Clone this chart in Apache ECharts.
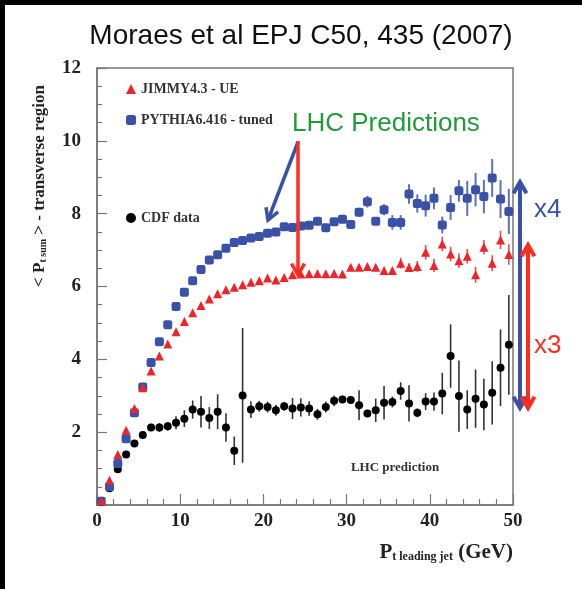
<!DOCTYPE html>
<html><head><meta charset="utf-8">
<script src="https://cdn.jsdelivr.net/npm/echarts@6/dist/echarts.min.js"></script>
<style>html,body{margin:0;padding:0;background:#fff}#c{width:582px;height:589px}</style>
</head><body><div id="c"></div>
<script>
// Bin centres (GeV)
const ptBins = [0.5,1.5,2.5,3.5,4.5,5.5,6.5,7.5,8.5,9.5,10.5,11.5,12.5,13.5,14.5,15.5,16.5,17.5,18.5,19.5,20.5,21.5,22.5,23.5,24.5,25.5,26.5,27.5,28.5,29.5,30.5,31.5,32.5,33.5,34.5,35.5,36.5,37.5,38.5,39.5,40.5,41.5,42.5,43.5,44.5,45.5,46.5,47.5,48.5,49.5];
// JIMMY4.3 - UE
const jimmyVals = [0.12,0.68,1.39,2.05,2.65,3.22,3.68,4.09,4.42,4.76,5.04,5.28,5.48,5.66,5.80,5.91,5.98,6.05,6.12,6.16,6.23,6.18,6.25,6.32,6.34,6.35,6.36,6.35,6.36,6.34,6.53,6.53,6.55,6.53,6.44,6.44,6.64,6.52,6.55,6.94,6.58,7.17,6.89,6.71,6.83,6.32,7.08,6.64,7.28,6.88];
const jimmyErr = [0.03,0.03,0.03,0.03,0.03,0.03,0.03,0.03,0.03,0.03,0.03,0.03,0.03,0.03,0.03,0.03,0.03,0.03,0.03,0.03,0.03,0.03,0.03,0.03,0.03,0.03,0.03,0.03,0.03,0.03,0.05,0.05,0.05,0.05,0.05,0.05,0.15,0.12,0.15,0.2,0.18,0.2,0.2,0.2,0.2,0.22,0.2,0.22,0.25,0.28];
// PYTHIA6.416 - tuned
const pythiaVals = [0.1,0.5,1.14,1.82,2.53,3.24,3.91,4.48,4.95,5.45,5.84,6.16,6.47,6.73,6.87,7.05,7.21,7.26,7.33,7.37,7.46,7.50,7.64,7.62,7.66,7.68,7.79,7.61,7.78,7.85,7.70,8.04,8.33,7.79,8.11,7.76,7.76,8.54,8.28,8.22,8.42,7.69,8.17,8.63,8.42,8.66,8.47,8.98,8.40,8.06];
const pythiaErr = [0.03,0.03,0.03,0.03,0.03,0.03,0.03,0.03,0.03,0.03,0.03,0.03,0.03,0.03,0.03,0.03,0.03,0.03,0.03,0.03,0.03,0.03,0.03,0.03,0.05,0.05,0.05,0.05,0.05,0.05,0.08,0.12,0.16,0.1,0.15,0.2,0.2,0.27,0.25,0.3,0.3,0.23,0.34,0.3,0.48,0.46,0.46,0.52,0.52,0.62];
// CDF data
const cdfVals = [0.08,0.46,0.98,1.39,1.69,1.92,2.13,2.13,2.16,2.26,2.37,2.62,2.56,2.39,2.56,2.13,1.49,3.01,2.62,2.71,2.69,2.60,2.71,2.65,2.68,2.65,2.49,2.69,2.86,2.90,2.88,2.74,2.51,2.60,2.81,2.83,3.13,2.79,2.53,2.84,2.84,3.06,4.09,2.99,2.62,2.92,2.76,3.08,3.77,4.40];
const cdfErr = [0.05,0.05,0.05,0.05,0.08,0.08,0.1,0.12,0.12,0.18,0.23,0.25,0.43,0.3,0.48,0.39,0.39,1.85,0.23,0.15,0.15,0.15,0.12,0.29,0.25,0.2,0.15,0.15,0.15,0.1,0.1,0.41,0.1,0.32,0.46,0.15,0.24,0.5,0.12,0.23,0.25,0.57,0.87,0.98,0.53,0.8,0.71,0.87,1.05,1.37];
// Axis ticks
const xTicks = [0,10,20,30,40,50];
const yTicks = [0,2,4,6,8,10,12];

const RED = '#f0232a', BLUE = '#3a51a8', BLACK = '#000';
const pts = (v) => ptBins.map((x,i)=>[x, v[i]]);
const errs = (v,e) => ptBins.map((x,i)=>[x, v[i]-e[i], v[i]+e[i]]);

function errSeries(name, data, color, w){
  return {
    type:'custom', name: name+'_err', silent:true, z:2,
    renderItem(params, api){
      const top = api.coord([api.value(0), api.value(2)]);
      const bot = api.coord([api.value(0), api.value(1)]);
      return {type:'line', shape:{x1:top[0],y1:top[1],x2:bot[0],y2:bot[1]}, style:{stroke:color, lineWidth:w}};
    },
    encode:{x:0, y:[1,2]},
    data: data
  };
}

function arrow(x1,y1,x2,y2,color,w,both){
  const out=[];
  out.push({type:'line', shape:{x1,y1,x2,y2}, style:{stroke:color,lineWidth:w}});
  function head(tx,ty,fx,fy){
    const dx=tx-fx, dy=ty-fy, L=Math.hypot(dx,dy), ux=dx/L, uy=dy/L;
    const len=13, a=Math.PI/6;
    const c=Math.cos(a), s=Math.sin(a);
    const p1=[tx-len*(ux*c-uy*s), ty-len*(uy*c+ux*s)];
    const p2=[tx-len*(ux*c+uy*s), ty-len*(uy*c-ux*s)];
    out.push({type:'polyline', shape:{points:[p1,[tx,ty],p2]}, style:{stroke:color,lineWidth:w,fill:null,lineJoin:'miter'}});
  }
  head(x2,y2,x1,y1);
  if(both) head(x1,y1,x2,y2);
  return out;
}

const chart = echarts.init(document.getElementById('c'), null, {renderer:'canvas'});
const serif = '"Liberation Serif", "Times New Roman", serif';
const sans = '"Liberation Sans", Arial, sans-serif';

const graphics = [
  {type:'rect', shape:{x:0,y:0,width:5,height:589}, style:{fill:'#000'}, z:100},
  {type:'rect', shape:{x:0,y:0,width:582,height:5}, style:{fill:'#000'}, z:100},
  {type:'text', x:37, y:186, rotation:Math.PI/2, z:100,
    style:{text:'{a|< P}{s|t sum}{a| > - transverse region}', align:'center', verticalAlign:'middle', fill:'#222',
      rich:{a:{fontFamily:serif, fontWeight:'bold', fontSize:17, lineHeight:22, verticalAlign:'bottom'},
            s:{fontFamily:serif, fontWeight:'bold', fontSize:10, lineHeight:10, verticalAlign:'bottom'}}}},
  {type:'text', x:513, y:550, z:100,
    style:{text:'{a|P}{s|t leading jet}{a| (GeV)}', align:'right', verticalAlign:'middle', fill:'#222',
      rich:{a:{fontFamily:serif, fontWeight:'bold', fontSize:21, lineHeight:26, verticalAlign:'bottom'},
            s:{fontFamily:serif, fontWeight:'bold', fontSize:12, lineHeight:12, verticalAlign:'bottom'}}}},
  {type:'text', x:395, y:468, z:100, style:{text:'LHC prediction', align:'center', verticalAlign:'middle', fill:'#333', font:'bold 13px '+serif}},
  {type:'text', x:292, y:124, z:100, style:{text:'LHC Predictions', align:'left', verticalAlign:'middle', fill:'#1f9b3c', font:'26px '+sans}},
  {type:'text', x:534, y:210, z:100, style:{text:'x4', align:'left', verticalAlign:'middle', fill:BLUE, font:'26px '+sans}},
  {type:'text', x:534, y:346, z:100, style:{text:'x3', align:'left', verticalAlign:'middle', fill:'#ff2d1e', font:'26px '+sans}},
].concat(
  arrow(298,142,268,220,BLUE,3.5,false),
  arrow(298,141,298,275,'#ff2d1e',3.5,false),
  arrow(520,182,520,408,BLUE,4,true),
  arrow(528,245,528,408,'#ff2d1e',4,true)
).map(g=>Object.assign({z:100},g));

chart.setOption({
  backgroundColor:'#fff',
  animation:false,
  title:{text:'Moraes et al EPJ C50, 435 (2007)', left:296, top:17, textAlign:'center',
    textStyle:{fontFamily:sans, fontWeight:'normal', fontSize:28, color:'#111'}},
  grid:{left:97, right:69, top:68, bottom:84, show:true, borderColor:'#777', borderWidth:1.5, backgroundColor:'#fff'},
  legend:[
    {data:[{name:'JIMMY4.3 - UE'},{name:'PYTHIA6.416 - tuned'}], orient:'vertical', left:121, top:77, itemWidth:10, itemHeight:10, itemGap:17,
      textStyle:{fontFamily:serif, fontWeight:'bold', fontSize:14, color:'#333'}},
    {data:[{name:'CDF data'}], orient:'vertical', left:121, top:206, itemWidth:10, itemHeight:10,
      textStyle:{fontFamily:serif, fontWeight:'bold', fontSize:14, color:'#333'}}
  ],
  xAxis:{type:'value', min:xTicks[0], max:xTicks[xTicks.length-1], interval:10,
    axisLine:{show:true, lineStyle:{color:'#777', width:1.5}},
    axisTick:{show:true, inside:true, length:11, lineStyle:{color:'#777', width:1.2}},
    minorTick:{show:true, splitNumber:5, length:6, lineStyle:{color:'#777', width:1.2}},
    splitLine:{show:false},
    axisLabel:{margin:7, fontFamily:serif, fontWeight:'bold', fontSize:19, color:'#222',
      formatter:(v)=> xTicks.includes(v)? String(v):''}},
  yAxis:{type:'value', min:yTicks[0], max:yTicks[yTicks.length-1], interval:2,
    axisLine:{show:true, lineStyle:{color:'#777', width:1.5}},
    axisTick:{show:true, inside:true, length:10, lineStyle:{color:'#777', width:1.2}},
    minorTick:{show:true, splitNumber:4, length:5, lineStyle:{color:'#777', width:1.2}},
    splitLine:{show:false},
    axisLabel:{margin:16, fontFamily:serif, fontWeight:'bold', fontSize:19, color:'#222',
      formatter:(v)=> (v===0||!yTicks.includes(v))? '' : String(v)}},
  series:[
    errSeries('CDF data', errs(cdfVals,cdfErr), '#333', 1.6),
    errSeries('PYTHIA6.416 - tuned', errs(pythiaVals,pythiaErr), '#5d6fc4', 2),
    errSeries('JIMMY4.3 - UE', errs(jimmyVals,jimmyErr), '#f0474c', 1.6),
    {type:'scatter', name:'CDF data', symbol:'circle', symbolSize:8, itemStyle:{color:BLACK, opacity:1}, data:pts(cdfVals), z:3},
    {type:'scatter', name:'PYTHIA6.416 - tuned', symbol:'roundRect', symbolSize:9, itemStyle:{color:BLUE, opacity:1}, data:pts(pythiaVals), z:4},
    {type:'scatter', name:'JIMMY4.3 - UE', symbol:'triangle', symbolSize:9, itemStyle:{color:RED, opacity:1}, data:pts(jimmyVals), z:5}
  ],
  graphic: graphics
});
</script></body></html>
